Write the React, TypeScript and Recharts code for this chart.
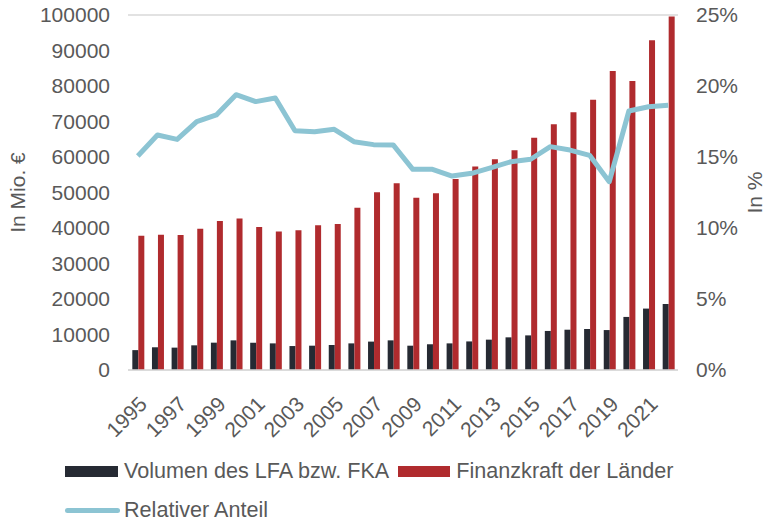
import React from 'react';
import { ComposedChart, Bar, Line, XAxis, YAxis, CartesianGrid } from 'recharts';

const years = [
  '1995', '1996', '1997', '1998', '1999', '2000', '2001', '2002', '2003', '2004',
  '2005', '2006', '2007', '2008', '2009', '2010', '2011', '2012', '2013', '2014',
  '2015', '2016', '2017', '2018', '2019', '2020', '2021', '2022',
];
const volumen = [
  5600, 6400, 6300, 6950, 7700, 8350, 7700, 7500, 6750, 6850,
  7050, 7500, 8000, 8350, 6850, 7250, 7500, 8050, 8550, 9200,
  9750, 11000, 11350, 11550, 11250, 14950, 17300, 18600,
];
const finanzkraft = [
  37800, 38100, 38000, 39800, 42000, 42700, 40300, 39000, 39400, 40800,
  41100, 45700, 50100, 52600, 48500, 49800, 53800, 57300, 59400, 61900,
  65400, 69200, 72600, 76100, 84200, 81400, 92900, 99600,
];
const anteil = [
  15.07, 16.55, 16.24, 17.49, 17.96, 19.39, 18.9, 19.15, 16.85, 16.78,
  16.95, 16.08, 15.87, 15.85, 14.13, 14.13, 13.66, 13.85, 14.25, 14.67,
  14.84, 15.73, 15.49, 15.12, 13.26, 18.24, 18.54, 18.64,
];
const leftTicks = [0, 10000, 20000, 30000, 40000, 50000, 60000, 70000, 80000, 90000, 100000];
const rightTicks = [0, 5, 10, 15, 20, 25];

const data = years.map((y, i) => ({ year: y, vol: volumen[i], fk: finanzkraft[i], rel: anteil[i] }));

const FONT = '"Liberation Sans", Arial, sans-serif';
const GREY = '#595959';
const tickStyle = { fontSize: 21, fill: GREY, fontFamily: FONT };
const labelStyle = { fontSize: 21, fill: GREY, fontFamily: FONT, textAnchor: 'middle' };

export default function App() {
  return (
    <div style={{ position: 'absolute', left: 0, top: 0, width: 767, height: 521, background: '#fff', fontFamily: FONT }}>
      <ComposedChart width={767} height={521} data={data} barGap={0} barCategoryGap="22%"
        margin={{ top: 15, right: 0, bottom: 91, left: 0 }}>
        <CartesianGrid vertical={false} stroke="#d9d9d9" strokeWidth={1.5} />
        <XAxis dataKey="year" interval={1} axisLine={{ stroke: '#d9d9d9', strokeWidth: 1.5 }} tickLine={false}
          height={60} angle={-45} textAnchor="end" tick={tickStyle} tickMargin={19} />
        <YAxis yAxisId="l" width={128} domain={[0, 100000]} ticks={leftTicks} axisLine={false} tickLine={false}
          tick={tickStyle} tickMargin={12}
          label={{ value: 'In Mio. €', angle: -90, position: 'insideLeft', dx: 13, style: labelStyle }} />
        <YAxis yAxisId="r" orientation="right" width={89} domain={[0, 25]} ticks={rightTicks} axisLine={false} tickLine={false}
          tick={tickStyle} tickMargin={12} tickFormatter={(v) => `${v}%`}
          label={{ value: 'In %', angle: -90, position: 'insideRight', dx: -7, style: labelStyle }} />
        <Bar yAxisId="l" dataKey="vol" name="Volumen des LFA bzw. FKA" fill="#262a33" isAnimationActive={false} />
        <Bar yAxisId="l" dataKey="fk" name="Finanzkraft der Länder" fill="#b02b2e" isAnimationActive={false} />
        <Line yAxisId="r" dataKey="rel" name="Relativer Anteil" stroke="#8cc4d3" strokeWidth={5} dot={false}
          strokeLinejoin="round" isAnimationActive={false} />
      </ComposedChart>
      <div style={{ position: 'absolute', left: 65, top: 458, fontSize: 21.6, color: GREY, lineHeight: '26px' }}>
        <div style={{ display: 'flex', alignItems: 'center' }}>
          <span style={{ width: 53, height: 11, background: '#262a33', marginRight: 6 }} />
          <span style={{ marginRight: 9 }}>Volumen des LFA bzw. FKA</span>
          <span style={{ width: 52, height: 11, background: '#b02b2e', marginRight: 6 }} />
          <span>Finanzkraft der Länder</span>
        </div>
        <div style={{ display: 'flex', alignItems: 'center', marginTop: 13 }}>
          <span style={{ width: 55, height: 5, borderRadius: 3, background: '#8cc4d3', marginRight: 4 }} />
          <span>Relativer Anteil</span>
        </div>
      </div>
    </div>
  );
}
